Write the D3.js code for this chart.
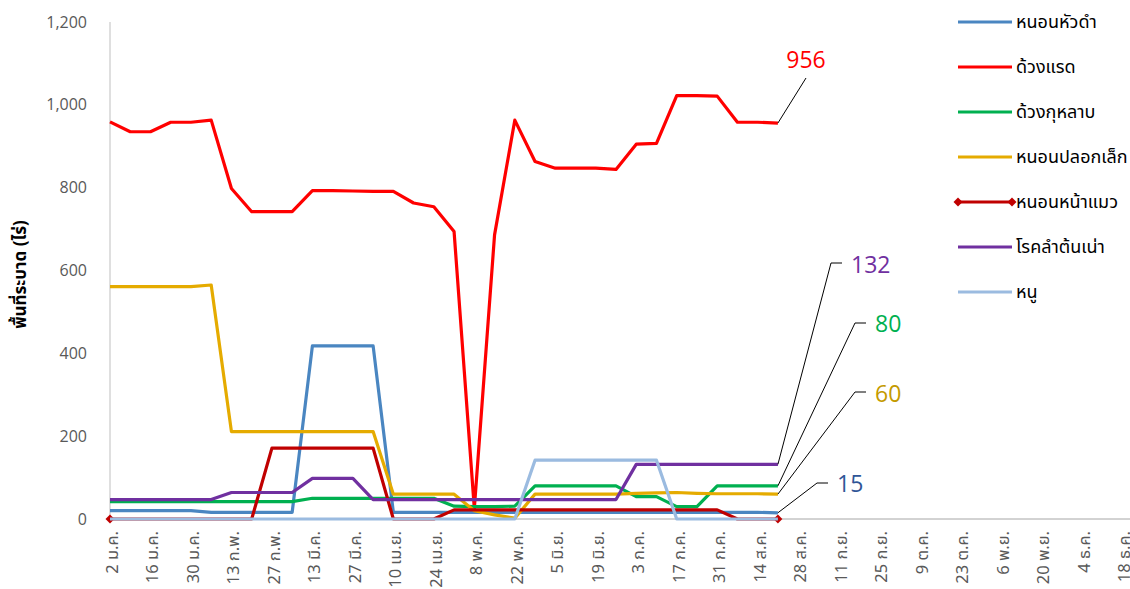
<!DOCTYPE html>
<html lang="th">
<head>
  <meta charset="UTF-8">
  <title>พื้นที่ระบาด</title>
  <script src="https://d3js.org/d3.v7.min.js"></script>
  <style>
    body {
      margin: 0;
      padding: 0;
      background: #fff;
      font-family: "Noto Sans Thai", "Noto Sans", "Open Sans", sans-serif;
    }
    #chart { display: block; }
    .line { fill: none; stroke-width: 3.2px; stroke-linejoin: round; }
    .tick-label { fill: #595959; font-size: 16.5px; }
    .leader { stroke: #000; stroke-width: 1px; fill: none; }
  </style>
</head>
<body>
  <svg id="chart"></svg>

  <script>
    // tick labels, every second week
    const weekLabels = ["2 ม.ค.", "16 ม.ค.", "30 ม.ค.", "13 ก.พ.", "27 ก.พ.", "13 มี.ค.", "27 มี.ค.",
      "10 เม.ย.", "24 เม.ย.", "8 พ.ค.", "22 พ.ค.", "5 มิ.ย.", "19 มิ.ย.", "3 ก.ค.", "17 ก.ค.",
      "31 ก.ค.", "14 ส.ค.", "28 ส.ค.", "11 ก.ย.", "25 ก.ย.", "9 ต.ค.", "23 ต.ค.", "6 พ.ย.",
      "20 พ.ย.", "4 ธ.ค.", "18 ธ.ค."];
    const yTicks = [0, 200, 400, 600, 800, 1000, 1200];

    const seriesNames = ["หนอนหัวดำ", "ด้วงแรด", "ด้วงกุหลาบ", "หนอนปลอกเล็ก", "หนอนหน้าแมว", "โรคลำต้นเน่า", "หนู"];

    // weekly values (34 weeks, from 2 ม.ค.)
    const blackHeaded = [20, 20, 20, 20, 20, 16, 16, 16, 16, 16, 418, 418, 418, 418, 16, 16, 16,
      16, 16, 16, 16, 16, 16, 16, 16, 16, 16, 16, 16, 16, 16, 16, 16, 15];
    const rhinoBeetle = [959, 935, 935, 958, 958, 963, 798, 742, 742, 742, 793, 793, 792, 791, 791,
      763, 754, 694, 25, 686, 963, 863, 847, 847, 847, 844, 905, 907, 1022, 1022, 1021, 958, 958, 956];
    const roseBeetle = [42, 42, 42, 42, 42, 42, 42, 42, 42, 42, 50, 50, 50, 50, 50, 50, 50, 31,
      30, 30, 31, 80, 80, 80, 80, 80, 54, 54, 30, 30, 80, 80, 80, 80];
    const smallCaseworm = [561, 561, 561, 561, 561, 565, 211, 211, 211, 211, 211, 211, 211, 211,
      60, 60, 60, 60, 20, 10, 2, 60, 60, 60, 60, 60, 62, 63, 64, 62, 61, 61, 61, 60];
    const catFaceWorm = [0, 0, 0, 0, 0, 0, 0, 0, 171, 171, 171, 171, 171, 171, 0, 0, 0, 22, 22,
      22, 22, 22, 22, 22, 22, 22, 22, 22, 22, 22, 22, 0, 0, 0];
    const stemRot = [47, 47, 47, 47, 47, 47, 64, 64, 64, 64, 98, 98, 98, 47, 47, 47, 47, 47, 47,
      47, 47, 47, 47, 47, 47, 47, 132, 132, 132, 132, 132, 132, 132, 132];
    const rat = [0, 0, 0, 0, 0, 0, 0, 0, 0, 0, 0, 0, 0, 0, 0, 0, 0, 0, 0, 0, 0, 142, 142, 142,
      142, 142, 142, 142, 0, 0, 0, 0, 0, 0];

    // last-point labels
    const endLabels = ["15", "956", "80", "60", null, "132", null];

    const colors = ["#4A86C1", "#FF0000", "#00B050", "#E5AB00", "#C00000", "#7030A0", "#9BBBE0"];
    const labelColors = ["#2F5597", "#FF0000", "#00B050", "#C49A00", null, "#7030A0", null];

    const seriesValues = [blackHeaded, rhinoBeetle, roseBeetle, smallCaseworm, catFaceWorm, stemRot, rat];
    const series = seriesNames.map((name, i) => ({
      name: name,
      values: seriesValues[i],
      color: colors[i],
      label: endLabels[i],
      labelColor: labelColors[i],
      markers: name === "หนอนหน้าแมว"
    }));

    const width = 1130, height = 589;
    const svg = d3.select("#chart").attr("width", width).attr("height", height);

    const x = d3.scaleLinear().domain([0, 50]).range([110, 1122]);
    const y = d3.scaleLinear().domain([0, 1200]).range([519, 22]);

    // axes lines
    svg.append("line").attr("x1", x(0)).attr("x2", 1130).attr("y1", y(0)).attr("y2", y(0))
      .attr("stroke", "#a6a6a6").attr("stroke-width", 1);
    svg.append("line").attr("x1", x(0)).attr("x2", x(0)).attr("y1", y(0)).attr("y2", y(1200))
      .attr("stroke", "#bfbfbf").attr("stroke-width", 1);

    // y labels
    svg.selectAll(".ylab")
      .data(yTicks)
      .enter().append("text")
      .attr("class", "tick-label")
      .attr("x", 87)
      .attr("y", d => y(d))
      .attr("dy", "0.35em")
      .attr("text-anchor", "end")
      .style("font-size", "16px")
      .style("font-family", "'Open Sans', sans-serif")
      .text(d3.format(","));

    // x labels
    svg.selectAll(".xlab")
      .data(weekLabels)
      .enter().append("text")
      .attr("class", "tick-label")
      .attr("transform", (d, i) => `translate(${x(i * 2) + 8},531) rotate(-90)`)
      .attr("text-anchor", "end")
      .text(d => d);

    // y title
    svg.append("text")
      .attr("transform", `translate(26,${y(600) + 4}) rotate(-90)`)
      .attr("text-anchor", "middle")
      .style("font-size", "17px")
      .style("font-weight", "bold")
      .style("fill", "#000")
      .text("พื้นที่ระบาด (ไร่)");

    const line = d3.line()
      .x((d, i) => x(i))
      .y(d => y(d));

    const diamond = d3.symbol().type(d3.symbolSquare).size(40);

    series.forEach(s => {
      svg.append("path")
        .datum(s.values)
        .attr("class", "line")
        .attr("stroke", s.color)
        .attr("d", line);

      if (s.markers) {
        const last = s.values.length - 1;
        [0, last].forEach(i => {
          svg.append("path")
            .attr("d", diamond)
            .attr("transform", `translate(${x(i)},${y(s.values[i])}) rotate(45)`)
            .attr("fill", s.color);
        });
      }
    });

    // leader lines and end labels: [elbowX, elbowY, tailX, textX, textY, anchor]
    const labelLayout = {
      "956": [806, 78, 806, 806, 68, "middle"],
      "132": [831, 263, 842, 851, 273, "start"],
      "80": [855, 323, 866, 875, 332, "start"],
      "60": [855, 392, 866, 875, 402, "start"],
      "15": [817, 483, 828, 837, 492, "start"]
    };

    series.forEach(s => {
      if (!s.label) return;
      const last = s.values.length - 1;
      const p = labelLayout[s.label];
      svg.append("polyline")
        .attr("class", "leader")
        .attr("points", `${x(last)},${y(s.values[last])} ${p[0]},${p[1]} ${p[2]},${p[1]}`);
      svg.append("text")
        .attr("x", p[3])
        .attr("y", p[4])
        .attr("text-anchor", p[5])
        .style("font-size", "23px")
        .style("font-family", "'Open Sans', sans-serif")
        .style("fill", s.labelColor)
        .text(s.label);
    });

    // legend
    const legend = svg.append("g").attr("transform", "translate(958,22)");
    series.forEach((s, i) => {
      const row = legend.append("g").attr("transform", `translate(0,${i * 45})`);
      row.append("line")
        .attr("x1", 0).attr("x2", 54).attr("y1", 0).attr("y2", 0)
        .attr("stroke", s.color).attr("stroke-width", 3.2);
      if (s.markers) {
        [0, 54].forEach(mx => {
          row.append("path").attr("d", diamond)
            .attr("transform", `translate(${mx},0) rotate(45)`)
            .attr("fill", s.color);
        });
      }
      row.append("text")
        .attr("x", 58)
        .attr("y", 0)
        .attr("dy", "0.32em")
        .style("font-size", "18px")
        .style("fill", "#000")
        .text(s.name);
    });
  </script>
</body>
</html>
